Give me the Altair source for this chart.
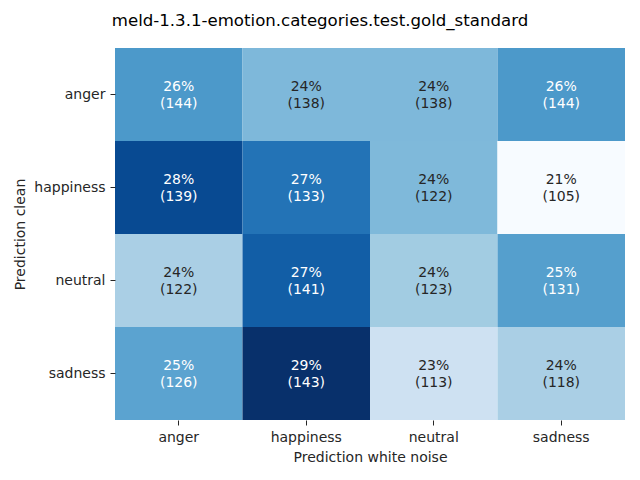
import altair as alt
import pandas as pd

rows = ["anger", "happiness", "neutral", "sadness"]
cols = ["anger", "happiness", "neutral", "sadness"]
counts = [
    [144, 138, 138, 144],
    [139, 133, 122, 105],
    [122, 141, 123, 131],
    [126, 143, 113, 118],
]

recs = []
for r, row in zip(rows, counts):
    tot = sum(row)
    for c, n in zip(cols, row):
        p = 100.0 * n / tot
        recs.append({"clean": r, "noise": c, "n": n, "pct": p,
                     "label": f"{round(p):d}%\n({n})"})
df = pd.DataFrame(recs)

vmin, vmax = df.pct.min(), df.pct.max()
blues = ["#f7fbff", "#deebf7", "#c6dbef", "#9ecae1", "#6baed6",
         "#4292c6", "#2171b5", "#08519c", "#08306b"]
dom = [vmin + (vmax - vmin) * i / 8 for i in range(9)]

font = "DejaVu Sans"
base = alt.Chart(df).encode(
    x=alt.X("noise:N", sort=cols, title="Prediction white noise",
            scale=alt.Scale(paddingInner=0, paddingOuter=0),
            axis=alt.Axis(labelAngle=0, domain=False, grid=False, tickSize=5,
                          tickColor="#262626", labelColor="#262626",
                          labelFontSize=14, labelFont=font, labelPadding=5,
                          titleFont=font, titleFontSize=14, titleFontWeight="normal",
                          titleColor="#262626", titlePadding=6)),
    y=alt.Y("clean:N", sort=rows, title="Prediction clean",
            scale=alt.Scale(paddingInner=0, paddingOuter=0),
            axis=alt.Axis(domain=False, grid=False, tickSize=5,
                          tickColor="#262626", labelColor="#262626",
                          labelFontSize=14, labelFont=font, labelPadding=5,
                          titleFont=font, titleFontSize=14, titleFontWeight="normal",
                          titleColor="#262626", titlePadding=6)),
)

rect = base.mark_rect().encode(
    color=alt.Color("pct:Q", legend=None,
                    scale=alt.Scale(domain=dom, range=blues, interpolate="rgb"))
)
text = base.mark_text(font=font, fontSize=14, lineBreak="\n", lineHeight=16.5,
                      baseline="middle", dy=-7.5).encode(
    text="label:N",
    color=alt.condition("datum.pct > 24.8", alt.value("white"), alt.value("#262626")),
)

chart = (rect + text).properties(
    width=510, height=372,
    title=alt.TitleParams("meld-1.3.1-emotion.categories.test.gold_standard",
                          font=font, fontSize=16.6, fontWeight="normal",
                          color="black", anchor="middle", dx=-50, offset=18),
    autosize=alt.AutoSizeParams(type="none"),
    padding={"left": 107, "top": 40, "right": 7, "bottom": 52},
).configure_view(stroke=None)

chart.save("out.html", embed_options={"renderer": "svg", "actions": False})
